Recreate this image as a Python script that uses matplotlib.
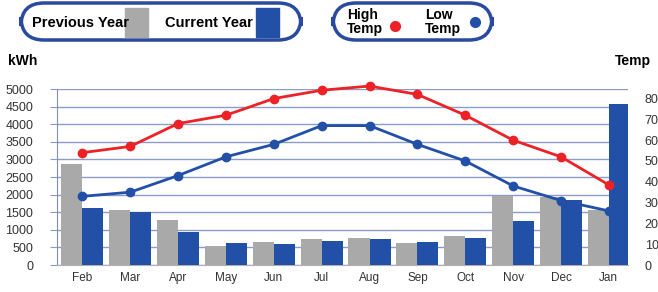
import matplotlib.pyplot as plt
from matplotlib.patches import FancyBboxPatch, Rectangle
from matplotlib.lines import Line2D
import numpy as np

plt.rcParams['font.family'] = ['Liberation Sans', 'DejaVu Sans']

months = ['Feb', 'Mar', 'Apr', 'May', 'Jun', 'Jul', 'Aug', 'Sep', 'Oct', 'Nov', 'Dec', 'Jan']
prev_year = [2860, 1550, 1280, 540, 645, 730, 775, 615, 825, 1960, 1940, 1570]
curr_year = [1610, 1500, 950, 615, 590, 670, 730, 665, 775, 1260, 1850, 4565]
high_temp = [54, 57, 68, 72, 80, 84, 86, 82, 72, 60, 52, 38.5]
low_temp = [33, 35, 43, 52, 58, 67, 67, 58, 50, 38, 31, 26]

GREY = '#a9a9a9'
BLUE = '#2150a6'
RED = '#ec2227'
LINEBLUE = '#2250a8'
GRID = '#8a9cc8'
EDGE = '#2a4aa0'

W, H = 658, 292
fig = plt.figure(figsize=(W / 100, H / 100), dpi=100)
fig.patch.set_facecolor('white')

# axes box in pixels
x0, x1, ytop, ybot = 57, 628, 89, 265
ax = fig.add_axes([x0 / W, 1 - ybot / H, (x1 - x0) / W, (ybot - ytop) / H])
ax2 = ax.twinx()

x = np.arange(len(months))
bw = 0.44
ax.bar(x - bw / 2, prev_year, bw, color=GREY, zorder=3)
ax.bar(x + bw / 2, curr_year, bw, color=BLUE, zorder=3)

ax.set_xlim(-0.53, 11.4)
ax.set_ylim(0, 5000)
ax.set_yticks(np.arange(0, 5001, 500))
ax.yaxis.grid(True, color=GRID, linewidth=1.0, zorder=0)
ax.set_axisbelow(True)
ax.set_xticks(x)
ax.set_xticklabels(months)
ax.tick_params(axis='x', length=0, labelsize=8.5, colors='#333333', pad=5)
ax.tick_params(axis='y', length=5, color=GRID, labelsize=9, labelcolor='#333333', pad=12)

for s in ['top', 'right']:
    ax.spines[s].set_visible(False)
ax.spines['left'].set_color('#7f8fb8')
ax.spines['bottom'].set_color('#b0b0b0')

ax2.plot(x, high_temp, color=RED, lw=2.0, marker='o', ms=6, clip_on=False, zorder=5)
ax2.plot(x, low_temp, color=LINEBLUE, lw=2.0, marker='o', ms=6, clip_on=False, zorder=5)
ax2.set_ylim(0, 84.6)
ax2.set_yticks(np.arange(0, 81, 10))
ax2.tick_params(axis='y', length=0, labelsize=9, labelcolor='#333333', pad=12)
for s in ax2.spines.values():
    s.set_visible(False)

# axis titles
fig.text(8 / W, 1 - 61 / H, 'kWh', fontsize=10, fontweight='bold', va='center', ha='left')
fig.text(615 / W, 1 - 61 / H, 'Temp', fontsize=10, fontweight='bold', va='center', ha='left')

# legend boxes
def fbox(px, py, pw, ph):
    return FancyBboxPatch((px / W, 1 - (py + ph) / H), pw / W, ph / H,
                          boxstyle='round,pad=0,rounding_size=0.035',
                          transform=fig.transFigure, fc='white', ec=EDGE, lw=2.5,
                          mutation_aspect=W / H)

fig.add_artist(fbox(21, 3, 280, 37))
fig.add_artist(fbox(333, 3, 159, 37))

fig.text(32 / W, 1 - 23 / H, 'Previous Year', fontsize=10.5, fontweight='bold', va='center')
fig.add_artist(Rectangle((125 / W, 1 - 37 / H), 23 / W, 29 / H, transform=fig.transFigure,
                         color=GREY))
fig.text(165 / W, 1 - 23 / H, 'Current Year', fontsize=10.5, fontweight='bold', va='center')
fig.add_artist(Rectangle((256 / W, 1 - 37 / H), 23 / W, 29 / H, transform=fig.transFigure,
                         color=BLUE))

fig.text(347 / W, 1 - 22 / H, 'High\nTemp', fontsize=10, fontweight='bold', va='center',
         linespacing=0.95)
fig.add_artist(Line2D([395 / W], [1 - 26 / H], marker='o', ms=7, color=RED,
                      transform=fig.transFigure))
fig.text(425 / W, 1 - 22 / H, 'Low\nTemp', fontsize=10, fontweight='bold', va='center',
         linespacing=0.95)
fig.add_artist(Line2D([475 / W], [1 - 22 / H], marker='o', ms=7, color=LINEBLUE,
                      transform=fig.transFigure))

fig.savefig('out.png', dpi=100)
